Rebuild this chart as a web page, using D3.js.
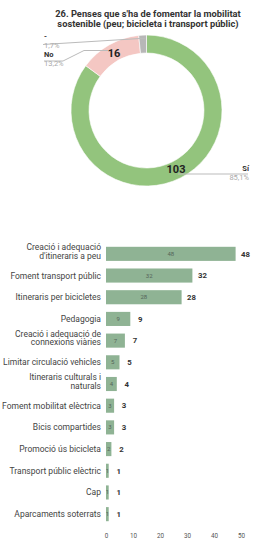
<!DOCTYPE html>
<html>
<head>
<meta charset="utf-8">
<script src="https://cdn.jsdelivr.net/npm/d3@7"></script>
<style>
  body { margin: 0; background: #fff; }
  svg { font-family: Roboto, "Noto Sans", sans-serif; }
</style>
</head>
<body>
<svg id="chart" width="258" height="543"></svg>
<script>
// donut data
var pieLabels = ["Sí", "No", "-"];
var pieValues = [103, 16, 2];
var piePercents = ["85,1%", "13,2%", "1,7%"];
var pieColors = ["#93c47d", "#f4c7c3", "#b7b7b7"];

// bar data
var barLabels = [
  ["Creació i adequació", "d'itineraris a peu"],
  ["Foment transport públic"],
  ["Itineraris per bicicletes"],
  ["Pedagogia"],
  ["Creació i adequació de", "connexions viàries"],
  ["Limitar circulació vehicles"],
  ["Itineraris culturals i", "naturals"],
  ["Foment mobilitat elèctrica"],
  ["Bicis compartides"],
  ["Promoció ús bicicleta"],
  ["Transport públic elèctric"],
  ["Cap"],
  ["Aparcaments soterrats"]
];
var barValues = [48, 32, 28, 9, 7, 5, 4, 3, 3, 2, 1, 1, 1];
var xTicks = [0, 10, 20, 30, 40, 50];

var svg = d3.select("#chart");

// title
svg.append("text")
    .attr("x", 148).attr("y", 17)
    .attr("text-anchor", "middle")
    .attr("font-size", 9.3).attr("font-weight", "bold").attr("fill", "#333")
    .text("26. Penses que s'ha de fomentar la mobilitat");
svg.append("text")
    .attr("x", 148).attr("y", 26.5)
    .attr("text-anchor", "middle")
    .attr("font-size", 9.3).attr("font-weight", "bold").attr("fill", "#333")
    .text("sostenible (peu; bicicleta i transport públic)");

// donut
var cx = 146.5, cy = 110.5, outerR = 75.5, innerR = 57.5;
var g = svg.append("g").attr("transform", "translate(" + cx + "," + cy + ")");

var pie = d3.pie().sort(null).value(function(d) { return d; });
var arcs = pie(pieValues);
var arc = d3.arc().innerRadius(innerR).outerRadius(outerR);

g.selectAll(".slice")
    .data(arcs)
  .enter().append("path")
    .attr("class", "slice")
    .attr("d", arc)
    .attr("fill", function(d, i) { return pieColors[i]; })
    .attr("stroke", "#fff")
    .attr("stroke-width", 0.6);

// value labels inside the ring
var valuePos = [[176 - cx, 173 - cy], [114 - cx, 57 - cy]];
g.selectAll(".val")
    .data(arcs.slice(0, 2))
  .enter().append("text")
    .attr("class", "val")
    .attr("x", function(d, i) { return valuePos[i][0]; })
    .attr("y", function(d, i) { return valuePos[i][1]; })
    .attr("text-anchor", "middle")
    .attr("font-size", 11).attr("font-weight", "bold").attr("fill", "#222")
    .text(function(d) { return d.value; });

// leader lines + outside labels
var lineColor = "#bbb";
svg.append("polyline")
    .attr("points", "178,174 248,174")
    .attr("fill", "none").attr("stroke", lineColor).attr("stroke-width", 1);
svg.append("polyline")
    .attr("points", "43,44.5 140,38.5 145,38.5")
    .attr("fill", "none").attr("stroke", lineColor).attr("stroke-width", 1);
svg.append("polyline")
    .attr("points", "44,61 63,61 84,50.5 108,50.5")
    .attr("fill", "none").attr("stroke", lineColor).attr("stroke-width", 1);

var outside = [
  { x: 249, y: 171, anchor: "end" },
  { x: 44, y: 57, anchor: "start" },
  { x: 44, y: 39, anchor: "start" }
];
outside.forEach(function(o, i) {
  svg.append("text")
      .attr("x", o.x).attr("y", o.y)
      .attr("text-anchor", o.anchor)
      .attr("font-size", 7.5).attr("font-weight", "bold").attr("fill", "#333")
      .text(pieLabels[i]);
  svg.append("text")
      .attr("x", o.x).attr("y", o.y + 9)
      .attr("text-anchor", o.anchor)
      .attr("font-size", 7.5).attr("fill", "#aaa")
      .text(piePercents[i]);
});

// bar chart
var x = d3.scaleLinear().domain([0, 50]).range([106, 241]);
var y = d3.scaleBand()
    .domain(d3.range(barValues.length))
    .range([243, 525])
    .paddingInner(0.35)
    .paddingOuter(0.175);

var bars = svg.append("g");
bars.selectAll("rect")
    .data(barValues)
  .enter().append("rect")
    .attr("x", x(0))
    .attr("y", function(d, i) { return y(i); })
    .attr("width", function(d) { return x(d) - x(0); })
    .attr("height", y.bandwidth())
    .attr("fill", "#8fb394");

bars.selectAll(".inner")
    .data(barValues)
  .enter().append("text")
    .attr("class", "inner")
    .attr("x", function(d) { return (x(0) + x(d)) / 2; })
    .attr("y", function(d, i) { return y(i) + y.bandwidth() / 2 + 2; })
    .attr("text-anchor", "middle")
    .attr("font-size", 6).attr("fill", "#55655a")
    .text(function(d) { return d; });

bars.selectAll(".outer")
    .data(barValues)
  .enter().append("text")
    .attr("class", "outer")
    .attr("x", function(d) { return x(d) + 10; })
    .attr("y", function(d, i) { return y(i) + y.bandwidth() / 2 + 2.8; })
    .attr("text-anchor", "middle")
    .attr("font-size", 7.8).attr("font-weight", "bold").attr("fill", "#333")
    .text(function(d) { return d; });

// category labels
var labels = bars.selectAll(".cat")
    .data(barLabels)
  .enter().append("text")
    .attr("class", "cat")
    .attr("text-anchor", "end")
    .attr("font-size", 8.5).attr("fill", "#444");
labels.each(function(lines, i) {
  var t = d3.select(this);
  var mid = y(i) + y.bandwidth() / 2;
  var startY = lines.length > 1 ? mid - 3.8 : mid + 3;
  lines.forEach(function(line, j) {
    t.append("tspan")
        .attr("x", 101)
        .attr("y", startY + j * 8.5)
        .text(line);
  });
});

// x axis (ticks only)
var axis = svg.append("g")
    .attr("transform", "translate(0,528)")
    .call(d3.axisBottom(x).tickValues(xTicks).tickSize(0).tickPadding(6));
axis.select(".domain").remove();
axis.selectAll("text")
    .attr("font-size", 6.3).attr("fill", "#555")
    .attr("font-family", "Roboto, sans-serif");
</script>
</body>
</html>
